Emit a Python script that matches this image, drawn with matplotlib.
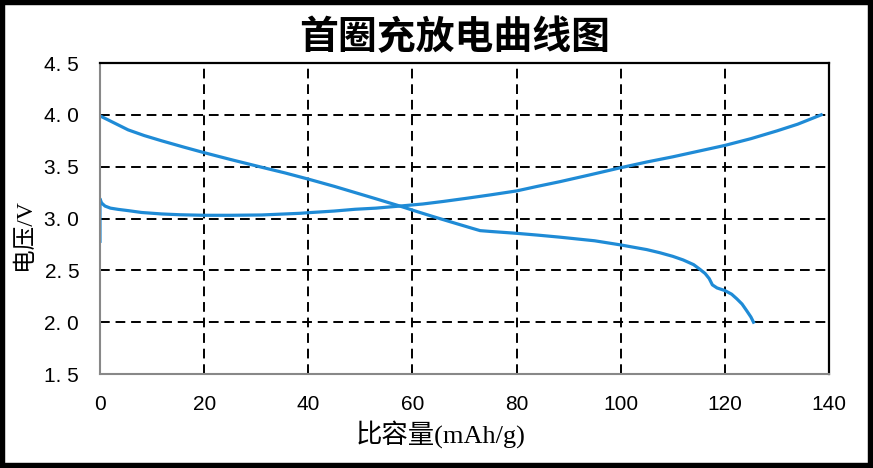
import matplotlib
matplotlib.use("Agg")
import matplotlib.pyplot as plt
from matplotlib.patches import Rectangle

# charge curve (capacity mAh/g, voltage V)
charge_cap = [0, 0, 0.3, 0.96, 2, 3.5, 5.4, 8, 11.8, 15.4, 20, 25, 31, 38.4, 40, 45, 49,
              53, 57.6, 62, 66, 70.4, 75, 80, 84, 88.3, 94, 100, 105, 110, 115, 120,
              125, 130, 134, 136.5, 138.5]
charge_v = [2.78, 3.19, 3.15, 3.12, 3.10, 3.088, 3.076, 3.058, 3.044, 3.036, 3.031,
            3.031, 3.034, 3.05, 3.056, 3.072, 3.089, 3.10, 3.12, 3.14, 3.165, 3.195,
            3.228, 3.266, 3.31, 3.355, 3.42, 3.49, 3.545, 3.595, 3.65, 3.705, 3.77,
            3.845, 3.91, 3.96, 4.0]

# discharge curve
discharge_cap = [0, 2, 5.4, 8.5, 11.8, 16, 20, 25, 31, 35.5, 40, 45, 49, 53, 57.6,
                 61, 64, 68.5, 71.5, 73, 75, 80, 84, 88.3, 95, 100, 105, 107.5, 110,
                 112, 114, 115.2, 116.2, 117, 117.6, 118.5, 120, 121.3, 122.3, 123.3,
                 124.2, 125, 125.5]
discharge_v = [3.99, 3.94, 3.855, 3.80, 3.75, 3.69, 3.635, 3.57, 3.495, 3.44, 3.38,
               3.31, 3.25, 3.19, 3.12, 3.065, 3.018, 2.95, 2.905, 2.883, 2.875, 2.857,
               2.84, 2.82, 2.785, 2.745, 2.70, 2.67, 2.635, 2.60, 2.555, 2.51, 2.47,
               2.42, 2.36, 2.33, 2.305, 2.27, 2.225, 2.175, 2.11, 2.05, 2.0]

x_ticks = [0, 20, 40, 60, 80, 100, 120, 140]
y_ticks = [1.5, 2.0, 2.5, 3.0, 3.5, 4.0, 4.5]
y_tick_labels = ["1. 5", "2. 0", "2. 5", "3. 0", "3. 5", "4. 0", "4. 5"]

title = "首圈充放电曲线图"
x_label = "比容量(mAh/g)"
y_label = "电压/V"

line_color = "#1f8bd6"
label_font = ["Liberation Serif", "Noto Sans CJK SC"]
tick_font = ["Liberation Sans", "DejaVu Sans"]

fig = plt.figure(figsize=(8.73, 4.68), dpi=100)
ax = fig.add_axes([100 / 873, (468 - 374) / 468, 729 / 873, 311 / 468])

ax.plot(charge_cap, charge_v, color=line_color, lw=2.3, solid_joinstyle="round")
ax.plot(discharge_cap, discharge_v, color=line_color, lw=2.3, solid_joinstyle="round")

ax.set_xlim(0, 140)
ax.set_ylim(1.5, 4.5)
ax.set_xticks(x_ticks)
ax.set_yticks(y_ticks)
ax.set_yticklabels(y_tick_labels)
for lab in ax.get_xticklabels() + ax.get_yticklabels():
    lab.set_fontfamily(tick_font)
    lab.set_fontsize(15)
ax.tick_params(axis="x", length=0, pad=15)
ax.tick_params(axis="y", length=0, pad=15)

ax.grid(True, color="black", linestyle=(0, (5, 3)), linewidth=1.4)
ax.set_axisbelow(True)

ax.spines["left"].set_color("#888888")
ax.spines["bottom"].set_color("#888888")
ax.spines["left"].set_linewidth(1.5)
ax.spines["bottom"].set_linewidth(1.5)
ax.spines["top"].set_color("black")
ax.spines["right"].set_color("black")
ax.spines["top"].set_linewidth(1.6)
ax.spines["right"].set_linewidth(1.6)

ax.set_xlabel(x_label, family=label_font, fontsize=19)
ax.xaxis.set_label_coords((441 - 100) / 729, -(434 - 374) / 311)
ax.xaxis.label.set_va("center")
ax.set_ylabel(y_label, family=label_font, fontsize=17)
ax.yaxis.set_label_coords(-(100 - 24) / 729, (374 - 235) / 311)
ax.yaxis.label.set_va("center")
fig.text(455 / 873, 1 - 38 / 468, title, family="Noto Sans CJK SC",
         fontsize=28, fontweight="bold", ha="center", va="center")

fig.patches.append(Rectangle((0, 0), 1, 1, transform=fig.transFigure, fill=False,
                             edgecolor="black", linewidth=7.5, clip_on=False))

fig.savefig("out.png", dpi=100)
